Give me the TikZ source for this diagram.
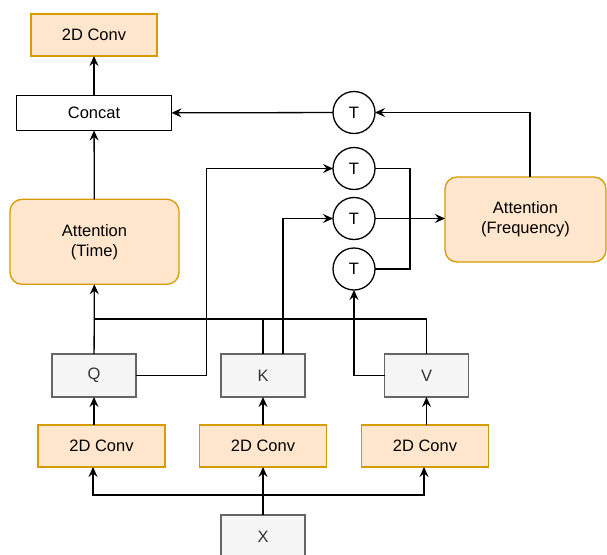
\documentclass[tikz,border=0pt]{standalone}
\usepackage{fontspec}
\setmainfont{Liberation Sans}
\usetikzlibrary{arrows.meta,calc}
\definecolor{orfill}{HTML}{FFE6CC}
\definecolor{ordraw}{HTML}{D79B00}
\definecolor{grfill}{HTML}{F5F5F5}
\definecolor{grdraw}{HTML}{666666}
\definecolor{grtext}{HTML}{333333}
\tikzset{
  every node/.style={font=\fontsize{16.5}{20}\selectfont, inner sep=0pt, outer sep=0pt},
  orbox/.style={draw=ordraw, fill=orfill, line width=1.3pt, minimum height=42pt},
  orround/.style={orbox, rounded corners=12pt, align=center},
  grbox/.style={draw=grdraw, fill=grfill, text=grtext, line width=1.3pt, minimum width=84pt, minimum height=43pt},
  whbox/.style={draw=black, fill=white, line width=1.3pt, minimum height=35pt},
  tcirc/.style={circle, draw=black, fill=white, line width=1.3pt, minimum size=42pt},
  conn/.style={draw=black, line width=1.3pt},
  arr/.style={conn, -{Stealth[length=10pt,width=9pt,inset=3.5pt]}}
}
\begin{document}
\begin{tikzpicture}[x=1pt,y=-1pt]
\clip (0,0) rectangle (607,554);
\fill[white] (0,0) rectangle (607,554);
% nodes
\node[orbox, minimum width=126pt] (ctop) at (94,35) {2D Conv};
\node[whbox, minimum width=155pt] (concat) at (94,113) {Concat};
\node[orround, minimum width=169pt, minimum height=85pt] (attT) at (94.5,241.8) {Attention\\(Time)};
\node[orround, minimum width=161pt, minimum height=85pt] (attF) at (525.5,219.5) {Attention\\(Frequency)};
\node[tcirc] (T1) at (354,112.5) {T};
\node[tcirc] (T2) at (354,168.5) {T};
\node[tcirc] (T3) at (354,218.5) {T};
\node[tcirc] (T4) at (354,269) {T};
\node[grbox] (Q) at (94,375.5) {Q};
\node[grbox] (K) at (263,375.5) {K};
\node[grbox] (V) at (426.5,375.5) {V};
\node[orbox, minimum width=127pt] (c1) at (101.5,446) {2D Conv};
\node[orbox, minimum width=127pt] (c2) at (263,446) {2D Conv};
\node[orbox, minimum width=127pt] (c3) at (425,446) {2D Conv};
\node[grbox] (X) at (263,536.5) {X};
\coordinate (hub) at (94,319);
\coordinate (fq) at (530,177);
\coordinate (xs) at (263,495);
% connectors
\draw[arr] (concat) -- (ctop);
\draw[arr] (attT) -- (concat);
\draw[arr] (T1) -- (concat);
\draw[arr] (fq) |- (T1.east);
\draw[arr] (T3.east) -- (T3.east -| attF.west);
\draw[conn] (T2.east) -- ++(35,0) |- (T4.east);
\draw[arr] (Q.east) -- ++(70.7,0) |- (T2.west);
\draw[arr] ($(K.north)+(20,0)$) |- (T3.west);
\draw[arr] (V.west) -| (T4.south);
\draw[arr] (Q) -- (attT);
\draw[conn] (K.north) |- (hub);
\draw[conn] (V.north) |- (hub);
\draw[arr] (Q.south |- c1.north) -- (Q.south);
\draw[arr] (c2) -- (K);
\draw[arr] (V.south |- c3.north) -- (V.south);
\draw[arr] (X) -- (c2);
\draw[arr] (xs) -| ($(c1.south)+(-8.5,0)$);
\draw[arr] (xs) -| ($(c3.south)+(-1,0)$);
\end{tikzpicture}
\end{document}
